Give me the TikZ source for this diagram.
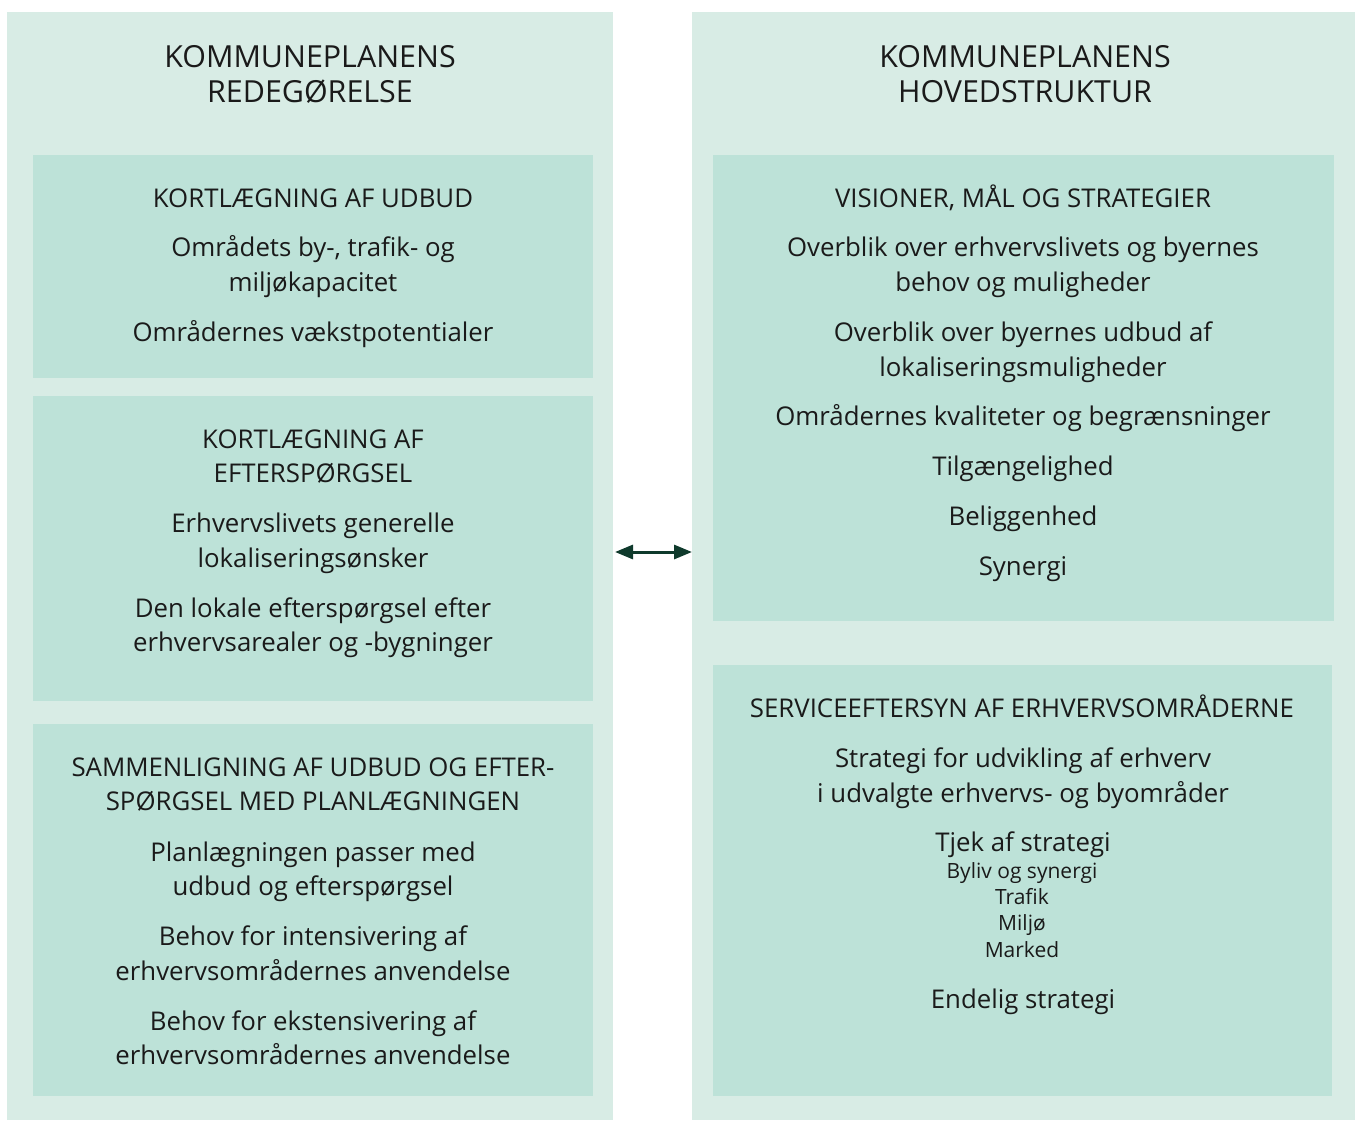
\documentclass[tikz,border=0pt]{standalone}
\usepackage{fontspec}
\setmainfont{Open Sans}
\usetikzlibrary{arrows.meta}
\definecolor{panelc}{HTML}{D8ECE5}
\definecolor{boxc}{HTML}{BDE2D8}
\definecolor{arrowc}{HTML}{0F3A2C}
\definecolor{txtc}{HTML}{1A1A1A}
\tikzset{
  panelbox/.style={fill=panelc, draw=none, anchor=north west, inner sep=0, outer sep=0},
  innerbox/.style={fill=boxc, draw=none, anchor=north west, inner sep=0, outer sep=0},
  titletext/.style={anchor=base, inner sep=0, text=txtc, font=\fontsize{30.4}{36}\selectfont},
  headtext/.style={anchor=base, inner sep=0, text=txtc, font=\fontsize{25.8}{31}\selectfont},
  bodytext/.style={anchor=base, inner sep=0, text=txtc, font=\fontsize{25.8}{31}\selectfont},
  smalltext/.style={anchor=base, inner sep=0, text=txtc, font=\fontsize{21}{25}\selectfont},
  dblarrow/.style={arrowc, line width=3pt, {Triangle[length=18pt,width=14pt]}-{Triangle[length=18pt,width=14pt]}}
}
\begin{document}
\begin{tikzpicture}[x=1pt,y=-1pt]
\useasboundingbox (0,0) rectangle (1355,1120);
% panels
\node[panelbox, minimum width=606pt, minimum height=1108pt] (lp) at (7,12) {};
\node[panelbox, minimum width=663pt, minimum height=1108pt] (rp) at (692,12) {};
% inner boxes
\node[innerbox, minimum width=560pt, minimum height=223pt] (lb1) at (33,155) {};
\node[innerbox, minimum width=560pt, minimum height=305pt] (lb2) at (33,396) {};
\node[innerbox, minimum width=560pt, minimum height=372pt] (lb3) at (33,724) {};
\node[innerbox, minimum width=621pt, minimum height=466pt] (rb1) at (713,155) {};
\node[innerbox, minimum width=619pt, minimum height=431pt] (rb2) at (713,665) {};
% arrow
\coordinate (amid) at (652,552);
\draw[dblarrow, shorten <=2pt] (lp.east |- amid) -- (rp.west |- amid);
% left texts
\node[titletext] (lt1) at (310,67) {KOMMUNEPLANENS};
\node[titletext] (lt2) at (310,102) {REDEGØRELSE};
\node[headtext] (l1h) at (313,207) {KORTLÆGNING AF UDBUD};
\node[bodytext] (l1a) at (313,256) {Områdets by-, trafik- og};
\node[bodytext] (l1b) at (313,291) {miljøkapacitet};
\node[bodytext] (l1c) at (313,341) {Områdernes vækstpotentialer};
\node[headtext] (l2h) at (313,448) {KORTLÆGNING AF};
\node[headtext] (l2i) at (313,482) {EFTERSPØRGSEL};
\node[bodytext] (l2a) at (313,532) {Erhvervslivets generelle};
\node[bodytext] (l2b) at (313,567) {lokaliseringsønsker};
\node[bodytext] (l2c) at (313,617) {Den lokale efterspørgsel efter};
\node[bodytext] (l2d) at (313,651) {erhvervsarealer og -bygninger};
\node[headtext] (l3h) at (313,776) {SAMMENLIGNING AF UDBUD OG EFTER-};
\node[headtext] (l3i) at (313,810) {SPØRGSEL MED PLANLÆGNINGEN};
\node[bodytext] (l3a) at (313,861) {Planlægningen passer med};
\node[bodytext] (l3b) at (313,895) {udbud og efterspørgsel};
\node[bodytext] (l3c) at (313,945) {Behov for intensivering af};
\node[bodytext] (l3d) at (313,980) {erhvervsområdernes anvendelse};
\node[bodytext] (l3e) at (313,1030) {Behov for ekstensivering af};
\node[bodytext] (l3f) at (313,1064) {erhvervsområdernes anvendelse};
% right texts
\node[titletext] (rt1) at (1025,67) {KOMMUNEPLANENS};
\node[titletext] (rt2) at (1025,102) {HOVEDSTRUKTUR};
\node[headtext] (r1h) at (1023,207) {VISIONER, MÅL OG STRATEGIER};
\node[bodytext] (r1a) at (1023,256) {Overblik over erhvervslivets og byernes};
\node[bodytext] (r1b) at (1023,291) {behov og muligheder};
\node[bodytext] (r1c) at (1023,341) {Overblik over byernes udbud af};
\node[bodytext] (r1d) at (1023,376) {lokaliseringsmuligheder};
\node[bodytext] (r1e) at (1023,425) {Områdernes kvaliteter og begrænsninger};
\node[bodytext] (r1f) at (1023,475) {Tilgængelighed};
\node[bodytext] (r1g) at (1023,525) {Beliggenhed};
\node[bodytext] (r1k) at (1023,575) {Synergi};
\node[headtext] (r2h) at (1022,717) {SERVICEEFTERSYN AF ERHVERVSOMRÅDERNE};
\node[bodytext] (r2a) at (1023,767) {Strategi for udvikling af erhverv};
\node[bodytext] (r2b) at (1023,802) {i udvalgte erhvervs- og byområder};
\node[bodytext] (r2c) at (1023,851) {Tjek af strategi};
\node[smalltext] (r2d) at (1022,878) {Byliv og synergi};
\node[smalltext] (r2e) at (1022,904) {Trafik};
\node[smalltext] (r2f) at (1022,930) {Miljø};
\node[smalltext] (r2g) at (1022,957) {Marked};
\node[bodytext] (r2k) at (1023,1008) {Endelig strategi};
\end{tikzpicture}
\end{document}
